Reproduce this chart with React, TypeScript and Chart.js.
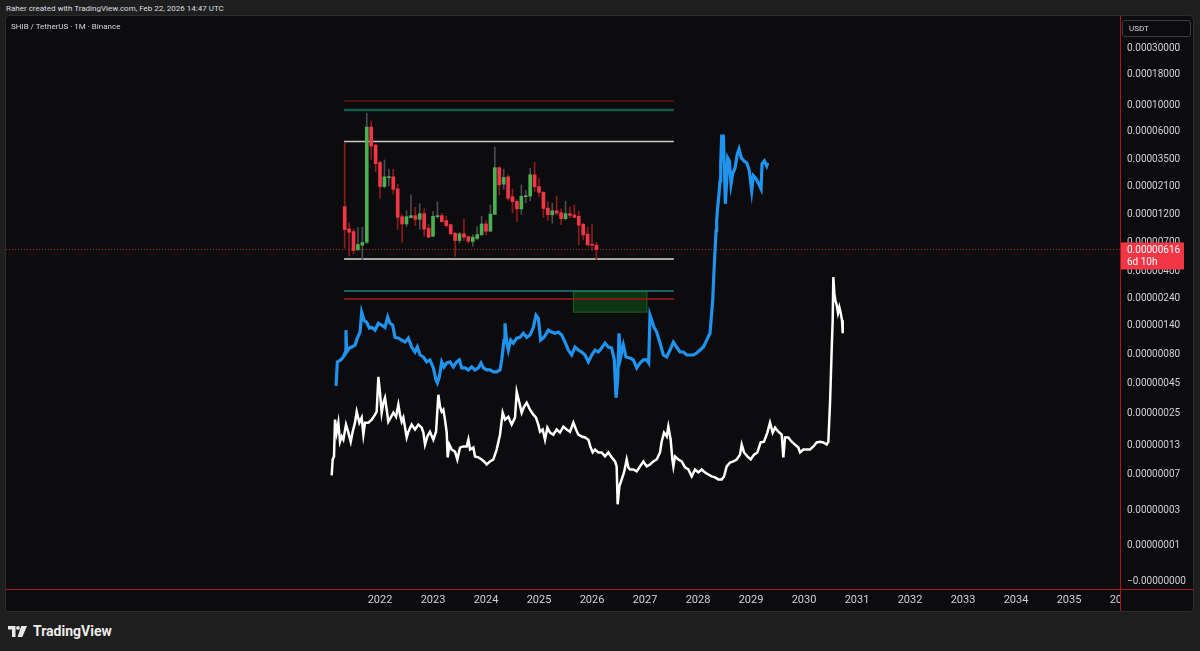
import React, { useEffect, useRef } from 'react';
import { Chart, registerables, LinearScale } from 'chart.js';

// ---------------- data ----------------
const HEADER_TEXT = 'Raher created with TradingView.com, Feb 22, 2026 14:47 UTC';
const SYMBOL_TEXT = 'SHIB / TetherUS \u00b7 1M \u00b7 Binance';
const QUOTE_TEXT = 'USDT';
const LAST_PRICE_TEXT = '0.00000616';
const COUNTDOWN_TEXT = '6d 10h';

const candleMonths = [
  '2021-05','2021-06','2021-07','2021-08','2021-09','2021-10','2021-11','2021-12',
  '2022-01','2022-02','2022-03','2022-04','2022-05','2022-06','2022-07','2022-08','2022-09','2022-10','2022-11','2022-12',
  '2023-01','2023-02','2023-03','2023-04','2023-05','2023-06','2023-07','2023-08','2023-09','2023-10','2023-11','2023-12',
  '2024-01','2024-02','2024-03','2024-04','2024-05','2024-06','2024-07','2024-08','2024-09','2024-10','2024-11','2024-12',
  '2025-01','2025-02','2025-03','2025-04','2025-05','2025-06','2025-07','2025-08','2025-09','2025-10','2025-11','2025-12',
  '2026-01','2026-02',
];
const opens = [
  1.41e-5, 9.17e-6, 8.71e-6, 6.12e-6, 6.69e-6, 7.09e-6, 6.57e-5, 4.64e-5,
  3.31e-5, 2.08e-5, 2.47e-5, 2.51e-5, 1.99e-5, 1.162e-5, 1.009e-5, 1.14e-5, 1.185e-5, 1.104e-5, 1.231e-5, 9.29e-6,
  7.96e-6, 1.162e-5, 1.185e-5, 1.076e-5, 9.96e-6, 8.43e-6, 7.32e-6, 8.33e-6, 7.91e-6, 7.18e-6, 7.61e-6, 8.17e-6,
  1.009e-5, 8.77e-6, 1.216e-5, 3.0e-5, 2.18e-5, 2.51e-5, 1.71e-5, 1.56e-5, 1.35e-5, 1.71e-5, 1.73e-5, 2.61e-5,
  2.08e-5, 1.86e-5, 1.37e-5, 1.208e-5, 1.3e-5, 1.255e-5, 1.118e-5, 1.231e-5, 1.2e-5, 1.17e-5, 1.003e-5, 8.27e-6,
  6.78e-6, 6.7e-6,
];
const highs = [
  4.85e-5, 1.03e-5, 9.17e-6, 9.47e-6, 9.47e-6, 8.59e-5, 7.37e-5, 4.7e-5,
  3.41e-5, 3.48e-5, 2.91e-5, 2.91e-5, 2.18e-5, 1.208e-5, 1.3e-5, 1.77e-5, 1.39e-5, 1.49e-5, 1.35e-5, 1.009e-5,
  1.28e-5, 1.55e-5, 1.24e-5, 1.177e-5, 1.009e-5, 8.6e-6, 8.6e-6, 1.111e-5, 7.96e-6, 8.22e-6, 9.59e-6, 1.17e-5,
  1.076e-5, 1.455e-5, 4.47e-5, 3.04e-5, 2.91e-5, 2.61e-5, 1.98e-5, 1.62e-5, 2.15e-5, 1.94e-5, 2.96e-5, 3.31e-5,
  2.44e-5, 1.89e-5, 1.55e-5, 1.51e-5, 1.73e-5, 1.35e-5, 1.57e-5, 1.4e-5, 1.46e-5, 1.296e-5, 1.022e-5, 9.47e-6,
  9.96e-6, 7.09e-6,
];
const lows = [
  6.32e-6, 5.42e-6, 5.67e-6, 6.04e-6, 5.08e-6, 6.9e-6, 3.52e-5, 2.78e-5,
  1.66e-5, 2.02e-5, 2.11e-5, 1.8e-5, 9.05e-6, 7.09e-6, 9.59e-6, 1.133e-5, 9.77e-6, 9.11e-6, 7.96e-6, 7.71e-6,
  7.9e-6, 1.125e-5, 1.042e-5, 9.47e-6, 8.22e-6, 5.38e-6, 7.0e-6, 7.32e-6, 6.96e-6, 6.57e-6, 7.42e-6, 8.1e-6,
  8.17e-6, 8.71e-6, 1.21e-5, 1.77e-5, 1.97e-5, 1.6e-5, 1.247e-5, 1.062e-5, 1.216e-5, 1.52e-5, 1.58e-5, 1.89e-5,
  1.71e-5, 1.147e-5, 1.076e-5, 1.022e-5, 1.2e-5, 9.96e-6, 1.09e-5, 1.14e-5, 1.133e-5, 6.78e-6, 7.42e-6, 6.57e-6,
  6.04e-6, 5.08e-6,
];
const closes = [
  9.05e-6, 8.6e-6, 6.04e-6, 6.78e-6, 7.05e-6, 6.57e-5, 4.55e-5, 3.24e-5,
  2.08e-5, 2.51e-5, 2.51e-5, 1.97e-5, 1.147e-5, 1.009e-5, 1.162e-5, 1.185e-5, 1.104e-5, 1.231e-5, 9.11e-6, 7.81e-6,
  1.17e-5, 1.185e-5, 1.055e-5, 9.77e-6, 8.33e-6, 7.32e-6, 8.33e-6, 7.81e-6, 7.23e-6, 7.81e-6, 8.22e-6, 1.009e-5,
  8.77e-6, 1.224e-5, 3.0e-5, 2.15e-5, 2.48e-5, 1.66e-5, 1.55e-5, 1.35e-5, 1.72e-5, 1.74e-5, 2.61e-5, 2.07e-5,
  1.86e-5, 1.36e-5, 1.208e-5, 1.3e-5, 1.247e-5, 1.118e-5, 1.231e-5, 1.192e-5, 1.147e-5, 9.84e-6, 8.17e-6, 6.74e-6,
  6.69e-6, 6.16e-6,
];

// blue projected path (decimal year, price)
const blueYears = [
  2021.170, 2021.195, 2021.258, 2021.308, 2021.346, 2021.358, 2021.371, 2021.421, 2021.465, 2021.528,
  2021.572, 2021.623, 2021.654, 2021.698, 2021.748, 2021.799, 2021.843, 2021.906, 2021.969, 2022.031,
  2022.094, 2022.145, 2022.189, 2022.239, 2022.283, 2022.346, 2022.409, 2022.472, 2022.535, 2022.597,
  2022.660, 2022.704, 2022.755, 2022.818, 2022.881, 2022.943, 2023.006, 2023.057, 2023.082, 2023.119,
  2023.164, 2023.208, 2023.258, 2023.321, 2023.384, 2023.447, 2023.497, 2023.541, 2023.604, 2023.667,
  2023.730, 2023.792, 2023.855, 2023.906, 2023.950, 2024.013, 2024.075, 2024.138, 2024.201, 2024.264,
  2024.296, 2024.340, 2024.358, 2024.390, 2024.421, 2024.465, 2024.516, 2024.579, 2024.642, 2024.704,
  2024.767, 2024.830, 2024.893, 2024.943, 2024.987, 2025.031, 2025.094, 2025.176, 2025.239, 2025.302,
  2025.365, 2025.428, 2025.491, 2025.553, 2025.616, 2025.679, 2025.742, 2025.805, 2025.868, 2025.931,
  2025.994, 2026.057, 2026.119, 2026.182, 2026.245, 2026.308, 2026.371, 2026.421, 2026.453, 2026.484,
  2026.509, 2026.541, 2026.591, 2026.642, 2026.717, 2026.780, 2026.843, 2026.906, 2026.969, 2027.031,
  2027.069, 2027.094, 2027.126, 2027.170, 2027.220, 2027.283, 2027.346, 2027.409, 2027.472, 2027.535,
  2027.597, 2027.660, 2027.723, 2027.786, 2027.849, 2027.912, 2027.975, 2028.038, 2028.101, 2028.164,
  2028.226, 2028.277, 2028.302, 2028.321, 2028.340, 2028.352, 2028.365, 2028.396, 2028.415, 2028.428,
  2028.447, 2028.478, 2028.497, 2028.516, 2028.541, 2028.560, 2028.591, 2028.623, 2028.654, 2028.698,
  2028.742, 2028.774, 2028.817, 2028.868, 2028.919, 2028.969, 2029.013, 2029.044, 2029.094, 2029.145,
  2029.189, 2029.208, 2029.252, 2029.296, 2029.315,
];
const bluePrices = [
  4.32e-7, 6.92e-7, 7.19e-7, 7.62e-7, 8.4e-7, 1.287e-6, 8.4e-7, 9.08e-7, 9.25e-7, 9.62e-7,
  1.1e-6, 1.24e-6, 1.82e-6, 1.56e-6, 1.5e-6, 1.34e-6, 1.36e-6, 1.287e-6, 1.47e-6, 1.42e-6,
  1.36e-6, 1.66e-6, 1.47e-6, 1.42e-6, 1.12e-6, 1.1e-6, 1.06e-6, 1.02e-6, 1.1e-6, 9.25e-7,
  8.4e-7, 9.25e-7, 7.92e-7, 7.62e-7, 6.92e-7, 7.19e-7, 6.15e-7, 4.86e-7, 4.58e-7, 5.15e-7,
  6.92e-7, 6.27e-7, 6.78e-7, 6.92e-7, 6.27e-7, 6.92e-7, 7.19e-7, 6.15e-7, 6.15e-7, 5.91e-7,
  6.27e-7, 5.91e-7, 6.15e-7, 6.78e-7, 6.15e-7, 5.91e-7, 5.91e-7, 5.68e-7, 5.68e-7, 5.91e-7,
  7.19e-7, 1.06e-6, 1.47e-6, 1.02e-6, 8.73e-7, 1.06e-6, 1.0e-6, 1.1e-6, 1.12e-6, 1.21e-6,
  1.12e-6, 1.17e-6, 1.36e-6, 1.72e-6, 1.62e-6, 1.06e-6, 1.12e-6, 1.287e-6, 1.24e-6, 1.21e-6,
  1.24e-6, 1.17e-6, 1.02e-6, 8.73e-7, 7.92e-7, 9.25e-7, 8.73e-7, 8.4e-7, 7.92e-7, 6.92e-7,
  7.92e-7, 8.73e-7, 8.4e-7, 9.08e-7, 1.0e-6, 9.25e-7, 9.08e-7, 7.19e-7, 3.41e-7, 4.86e-7,
  1.21e-6, 7.62e-7, 9.62e-7, 7.62e-7, 7.47e-7, 7.19e-7, 6.15e-7, 6.78e-7, 7.19e-7, 7.19e-7,
  6.78e-7, 1.72e-6, 1.56e-6, 1.36e-6, 1.24e-6, 1.0e-6, 7.92e-7, 7.62e-7, 8.73e-7, 1.02e-6,
  9.25e-7, 8.4e-7, 8.4e-7, 7.92e-7, 7.92e-7, 7.92e-7, 8.23e-7, 8.73e-7, 9.25e-7, 1.06e-6,
  1.21e-6, 2.3e-6, 4.1e-6, 6.04e-6, 8.87e-6, 1.075e-5, 1.3e-5, 1.81e-5, 2.32e-5, 3.22e-5,
  5.52e-5, 5.52e-5, 2.98e-5, 1.49e-5, 2.32e-5, 3.62e-5, 3.41e-5, 2.19e-5, 2.66e-5, 2.98e-5,
  3.91e-5, 4.3e-5, 3.62e-5, 3.41e-5, 3.29e-5, 2.82e-5, 1.92e-5, 2.56e-5, 2.42e-5, 2.19e-5,
  1.99e-5, 3.22e-5, 3.41e-5, 3.1e-5, 3.29e-5,
];

// white projected path (decimal year, price)
const whiteYears = [
  2021.088, 2021.107, 2021.132, 2021.151, 2021.182, 2021.214, 2021.245, 2021.277, 2021.308, 2021.358,
  2021.403, 2021.447, 2021.484, 2021.528, 2021.560, 2021.610, 2021.654, 2021.686, 2021.717, 2021.780,
  2021.843, 2021.906, 2021.937, 2021.969, 2022.000, 2022.031, 2022.063, 2022.094, 2022.126, 2022.157,
  2022.201, 2022.252, 2022.302, 2022.346, 2022.377, 2022.409, 2022.440, 2022.472, 2022.503, 2022.535,
  2022.597, 2022.660, 2022.723, 2022.786, 2022.818, 2022.849, 2022.893, 2022.943, 2023.006, 2023.057,
  2023.101, 2023.132, 2023.164, 2023.195, 2023.226, 2023.258, 2023.277, 2023.308, 2023.352, 2023.415,
  2023.459, 2023.509, 2023.572, 2023.635, 2023.667, 2023.698, 2023.761, 2023.792, 2023.855, 2023.918,
  2023.981, 2024.013, 2024.075, 2024.138, 2024.201, 2024.264, 2024.314, 2024.358, 2024.421, 2024.484,
  2024.547, 2024.579, 2024.629, 2024.673, 2024.717, 2024.767, 2024.830, 2024.893, 2024.943, 2024.987,
  2025.019, 2025.069, 2025.113, 2025.157, 2025.208, 2025.270, 2025.333, 2025.396, 2025.459, 2025.522,
  2025.585, 2025.648, 2025.698, 2025.742, 2025.805, 2025.868, 2025.931, 2025.975, 2026.013, 2026.057,
  2026.119, 2026.182, 2026.245, 2026.308, 2026.371, 2026.434, 2026.465, 2026.484, 2026.516, 2026.560,
  2026.604, 2026.654, 2026.686, 2026.717, 2026.780, 2026.843, 2026.906, 2026.969, 2027.031, 2027.094,
  2027.157, 2027.220, 2027.283, 2027.314, 2027.358, 2027.409, 2027.440, 2027.484, 2027.516, 2027.535,
  2027.566, 2027.629, 2027.692, 2027.755, 2027.818, 2027.881, 2027.943, 2028.006, 2028.069, 2028.132,
  2028.195, 2028.258, 2028.321, 2028.384, 2028.447, 2028.491, 2028.541, 2028.604, 2028.667, 2028.730,
  2028.792, 2028.824, 2028.868, 2028.931, 2028.994, 2029.057, 2029.119, 2029.182, 2029.245, 2029.308,
  2029.358, 2029.409, 2029.453, 2029.516, 2029.579, 2029.610, 2029.642, 2029.704, 2029.767, 2029.830,
  2029.893, 2029.925, 2029.987, 2030.050, 2030.113, 2030.176, 2030.239, 2030.302, 2030.365, 2030.428,
  2030.459, 2030.491, 2030.522, 2030.541, 2030.553, 2030.572, 2030.591, 2030.616, 2030.642, 2030.667,
  2030.692, 2030.717, 2030.730,
];
const whitePrices = [
  6.82e-8, 9.65e-8, 1.03e-7, 2.2e-7, 1.69e-7, 2.07e-7, 1.4e-7, 1.56e-7, 1.46e-7, 1.99e-7,
  1.69e-7, 1.4e-7, 1.72e-7, 2.07e-7, 2.58e-7, 2.07e-7, 2.29e-7, 1.62e-7, 2.07e-7, 2.07e-7,
  2.2e-7, 2.43e-7, 2.58e-7, 5.15e-7, 3.76e-7, 2.53e-7, 3.09e-7, 3.41e-7, 2.69e-7, 2.11e-7,
  2.29e-7, 2.53e-7, 2.33e-7, 2.97e-7, 2.43e-7, 2.11e-7, 2.29e-7, 1.87e-7, 1.53e-7, 1.72e-7,
  1.99e-7, 1.8e-7, 1.99e-7, 1.87e-7, 1.69e-7, 1.32e-7, 1.56e-7, 1.72e-7, 1.46e-7, 1.72e-7,
  3.62e-7, 2.85e-7, 2.58e-7, 2.69e-7, 2.2e-7, 1.69e-7, 1.01e-7, 1.32e-7, 1.19e-7, 1.14e-7,
  9.65e-8, 1.24e-7, 1.27e-7, 1.27e-7, 1.46e-7, 1.19e-7, 1.24e-7, 1.03e-7, 1.01e-7, 9.65e-8,
  9.05e-8, 8.67e-8, 9.25e-8, 9.65e-8, 1.19e-7, 1.62e-7, 2.53e-7, 2.2e-7, 2.33e-7, 1.99e-7,
  2.29e-7, 3.84e-7, 3.09e-7, 2.53e-7, 2.85e-7, 3.09e-7, 2.69e-7, 2.43e-7, 2.29e-7, 1.99e-7,
  1.72e-7, 1.8e-7, 1.46e-7, 1.87e-7, 1.69e-7, 1.62e-7, 1.8e-7, 1.69e-7, 1.91e-7, 1.8e-7,
  1.72e-7, 2.07e-7, 1.8e-7, 1.62e-7, 1.56e-7, 1.53e-7, 1.46e-7, 1.24e-7, 1.12e-7, 1.19e-7,
  1.12e-7, 1.12e-7, 1.03e-7, 1.12e-7, 1.01e-7, 9.25e-8, 8.31e-8, 3.48e-8, 5.33e-8, 6.24e-8,
  7.29e-8, 9.65e-8, 8.13e-8, 7.78e-8, 7.78e-8, 7.45e-8, 8.31e-8, 9.25e-8, 8.31e-8, 8.67e-8,
  9.25e-8, 9.65e-8, 1.12e-7, 1.4e-7, 1.69e-7, 1.56e-7, 1.91e-7, 1.46e-7, 9.65e-8, 8.31e-8,
  1.03e-7, 9.65e-8, 9.25e-8, 8.13e-8, 7.78e-8, 6.67e-8, 7.78e-8, 7.29e-8, 7.78e-8, 7.29e-8,
  6.97e-8, 6.67e-8, 6.53e-8, 6.24e-8, 6.24e-8, 6.67e-8, 8.31e-8, 9.05e-8, 9.25e-8, 9.65e-8,
  1.07e-7, 1.32e-7, 1.12e-7, 1.03e-7, 9.65e-8, 1.07e-7, 1.12e-7, 1.38e-7, 1.4e-7, 1.69e-7,
  2.07e-7, 1.69e-7, 1.87e-7, 1.72e-7, 1.62e-7, 1.01e-7, 1.53e-7, 1.53e-7, 1.4e-7, 1.32e-7,
  1.24e-7, 1.12e-7, 1.19e-7, 1.19e-7, 1.19e-7, 1.27e-7, 1.38e-7, 1.4e-7, 1.38e-7, 1.32e-7,
  1.4e-7, 3.09e-7, 8.73e-7, 1.56e-6, 3.6e-6, 2.64e-6, 2.3e-6, 2.1e-6, 1.8e-6, 2.01e-6,
  1.8e-6, 1.56e-6, 1.21e-6,
];

// horizontal levels drawn over the candle area
const levelStart = 2021.321;
const levelEnd = 2027.544;
const levelValues = [1.0875e-4, 9.14e-5, 4.97e-5, 5.12e-6, 2.75e-6, 2.36e-6];
// zone rectangle
const zoneStart = 2025.64;
const zoneEnd = 2027.044;
const zoneTop = 2.75e-6;
const zoneBottom = 1.81e-6;

// axes
const yearTicks = [2022, 2023, 2024, 2025, 2026, 2027, 2028, 2029, 2030, 2031, 2032, 2033, 2034, 2035];
const clippedYear = 2036;
const yTickValues = [
  0.0003, 0.00018, 0.0001, 0.00006, 0.000035, 0.000021, 0.000012, 0.000007, 0.000004, 0.0000024,
  0.0000014, 0.0000008, 0.00000045, 0.00000025, 0.00000013, 0.00000007, 0.00000003, 0.00000001, 0,
];
const yTickLabels = [
  '0.00030000', '0.00018000', '0.00010000', '0.00006000', '0.00003500', '0.00002100', '0.00001200',
  '0.00000700', '0.00000400', '0.00000240', '0.00000140', '0.00000080', '0.00000045', '0.00000025',
  '0.00000013', '0.00000007', '0.00000003', '0.00000001', '\u22120.00000000',
];
const X_MIN = 2014.943;
const X_MAX = 2035.962;
const Y_MIN = -1.29e-9;
const Y_MAX = 5.622e-4;

// ---------------- styles ----------------
const FONT = 'Roboto, "DejaVu Sans", sans-serif';
const TEXT = '#cfd2d8';
const UP = '#4caf50';
const DOWN = '#f23645';
const WICK_UP = '#4a4c52';
const WICK_DOWN = '#8a1c1c';
const levelColors = ['#8e1a1a', '#10594a', '#c9c9c9', '#a6a6a6', '#1d8277', '#a01818'];
const levelWidths = [1, 2.5, 1.5, 2, 1.5, 1.5];
const AXIS_LINE = '#a81818';

// ---------------- custom offset-log scale (TradingView style log) ----------------
const LOG_OFFSET = 1e-8;
class OffsetLogScale extends LinearScale {
  static id = 'offsetLog';
  static defaults = {};
  configure() {
    super.configure();
    const a = Math.log10(this.min + LOG_OFFSET);
    const b = Math.log10(this.max + LOG_OFFSET);
    (this as any)._tStart = a;
    (this as any)._tRange = b - a;
  }
  getPixelForValue(value: any) {
    if (value === null || value === undefined || isNaN(value)) return NaN;
    const t = Math.log10(Math.max(value + LOG_OFFSET, 1e-30));
    return this.getPixelForDecimal((t - (this as any)._tStart) / (this as any)._tRange);
  }
  getValueForPixel(pixel: number) {
    return Math.pow(10, (this as any)._tStart + this.getDecimalForPixel(pixel) * (this as any)._tRange) - LOG_OFFSET;
  }
}
Chart.register(...registerables, OffsetLogScale as any);

const lastClose = closes[closes.length - 1];

const overlayPlugin = {
  id: 'tvOverlay',
  beforeDatasetsDraw(chart: any) {
    const { ctx, chartArea: a, scales } = chart;
    const x = scales.x;
    const y = scales.y;
    ctx.save();
    ctx.beginPath();
    ctx.rect(a.left, a.top, a.right - a.left, a.bottom - a.top);
    ctx.clip();
    const bx0 = x.getPixelForValue(zoneStart);
    const bx1 = x.getPixelForValue(zoneEnd);
    const by0 = y.getPixelForValue(zoneTop);
    const by1 = y.getPixelForValue(zoneBottom);
    ctx.fillStyle = 'rgba(22,110,26,0.42)';
    ctx.fillRect(bx0, by0, bx1 - bx0, by1 - by0);
    ctx.strokeStyle = '#1e5f22';
    ctx.lineWidth = 1;
    ctx.strokeRect(bx0 + 0.5, by0 + 0.5, bx1 - bx0 - 1, by1 - by0 - 1);
    // dotted last-price line
    const py = Math.round(y.getPixelForValue(lastClose));
    ctx.fillStyle = '#c3202c';
    for (let px = Math.round(a.left); px < a.right; px += 3) {
      ctx.fillRect(px, py, 1, 1);
    }
    ctx.restore();
  },
  afterDraw(chart: any) {
    const { ctx, chartArea: a, scales } = chart;
    const x = scales.x;
    const y = scales.y;
    const cw = ctx.canvas.width;
    const ch = ctx.canvas.height;
    ctx.save();
    // clipped next-year label
    ctx.save();
    ctx.beginPath();
    ctx.rect(0, a.bottom, a.right, ch - a.bottom);
    ctx.clip();
    ctx.fillStyle = TEXT;
    ctx.font = '11px ' + FONT;
    ctx.textAlign = 'center';
    ctx.textBaseline = 'middle';
    ctx.fillText(String(clippedYear), x.getPixelForValue(clippedYear), a.bottom + 5 + 6.6);
    ctx.restore();
    // red axis cross lines
    ctx.fillStyle = AXIS_LINE;
    ctx.fillRect(Math.round(a.right), 0, 1, ch);
    ctx.fillRect(0, Math.round(a.bottom), cw, 1);
    // last price tag
    const py = y.getPixelForValue(lastClose);
    const left = a.right + 1;
    ctx.fillStyle = DOWN;
    ctx.fillRect(left, py - 7, 63, 27);
    ctx.fillStyle = '#ffffff';
    ctx.font = '10px ' + FONT;
    ctx.textAlign = 'left';
    ctx.textBaseline = 'middle';
    ctx.fillText(LAST_PRICE_TEXT, left + 6, py + 1);
    ctx.fillText(COUNTDOWN_TEXT, left + 6, py + 13);
    ctx.restore();
  },
};

export default function App() {
  const canvasRef = useRef<HTMLCanvasElement | null>(null);

  useEffect(() => {
    const canvas = canvasRef.current;
    if (!canvas) return;
    const candleX = candleMonths.map((m) => {
      const [yy, mm] = m.split('-').map(Number);
      return yy + (mm - 1) / 12;
    });
    const isUp = closes.map((c, i) => c >= opens[i]);

    const levelSets = levelValues.map((v, i) => ({
      type: 'line',
      data: [{ x: levelStart, y: v }, { x: levelEnd, y: v }],
      borderColor: levelColors[i],
      borderWidth: levelWidths[i],
      pointRadius: 0,
      tension: 0,
      order: 5,
    }));

    const chart = new Chart(canvas, {
      type: 'line',
      data: {
        datasets: [
          {
            type: 'bar',
            data: candleX.map((xv, i) => ({ x: xv, y: [lows[i], highs[i]] })),
            backgroundColor: isUp.map((u) => (u ? WICK_UP : WICK_DOWN)),
            barThickness: 1,
            grouped: false,
            borderWidth: 0,
            order: 2,
          },
          {
            type: 'bar',
            data: candleX.map((xv, i) => ({
              x: xv,
              y: [Math.min(opens[i], closes[i]), Math.max(opens[i], closes[i])],
            })),
            backgroundColor: isUp.map((u) => (u ? UP : DOWN)),
            barThickness: 3,
            minBarLength: 1,
            grouped: false,
            borderWidth: 0,
            order: 1,
          },
          {
            type: 'line',
            data: blueYears.map((xv, i) => ({ x: xv, y: bluePrices[i] })),
            borderColor: '#1f93ee',
            borderWidth: 3.2,
            pointRadius: 0,
            tension: 0,
            order: 3,
          },
          {
            type: 'line',
            data: whiteYears.map((xv, i) => ({ x: xv, y: whitePrices[i] })),
            borderColor: '#ffffff',
            borderWidth: 2.5,
            pointRadius: 0,
            tension: 0,
            order: 3,
          },
          ...levelSets,
        ] as any,
      },
      options: {
        responsive: false,
        animation: false,
        devicePixelRatio: 1,
        events: [],
        layout: { padding: 0 },
        plugins: { legend: { display: false }, tooltip: { enabled: false } },
        scales: {
          x: {
            type: 'linear',
            min: X_MIN,
            max: X_MAX,
            bounds: 'data',
            offset: false,
            grid: { display: false, drawTicks: false, offset: false },
            border: { display: false },
            afterBuildTicks: (s: any) => {
              s.ticks = yearTicks.map((v) => ({ value: v }));
            },
            ticks: {
              autoSkip: false,
              maxRotation: 0,
              minRotation: 0,
              padding: 5,
              color: TEXT,
              font: { family: FONT, size: 11 },
              callback: (v: any) => String(v),
            },
            afterFit: (s: any) => {
              s.height = 22;
              s.paddingLeft = 0;
              s.paddingRight = 0;
            },
          },
          y: {
            type: 'offsetLog',
            position: 'right',
            min: Y_MIN,
            max: Y_MAX,
            bounds: 'data',
            beginAtZero: false,
            grid: { display: false, drawTicks: false },
            border: { display: false },
            afterBuildTicks: (s: any) => {
              s.ticks = yTickValues.map((v) => ({ value: v }));
            },
            ticks: {
              autoSkip: false,
              padding: 7,
              color: TEXT,
              font: { family: FONT, size: 10 },
              callback: (_v: any, i: number) => yTickLabels[i],
            },
            afterFit: (s: any) => {
              s.width = 73;
              s.paddingTop = 0;
              s.paddingBottom = 0;
            },
          },
        } as any,
      },
      plugins: [overlayPlugin as any],
    } as any);
    return () => chart.destroy();
  }, []);

  return (
    <div
      style={{
        position: 'absolute',
        left: 0,
        top: 0,
        width: 1200,
        height: 651,
        background: '#1e1e1e',
        overflow: 'hidden',
        fontFamily: FONT,
      }}
    >
      <div style={{ position: 'absolute', left: 6, top: 3, fontSize: 8, lineHeight: '12px', color: '#dcdee3', whiteSpace: 'nowrap' }}>
        {HEADER_TEXT}
      </div>
      <div
        style={{
          position: 'absolute',
          left: 5,
          top: 15,
          width: 1189,
          height: 597,
          background: '#0c0c0e',
          border: '1px solid #2c2c2c',
          borderRadius: 4,
          boxSizing: 'border-box',
        }}
      />
      <canvas
        ref={canvasRef}
        width={1187}
        height={595}
        style={{ position: 'absolute', left: 6, top: 16, width: 1187, height: 595 }}
      />
      <div style={{ position: 'absolute', left: 11, top: 21, fontSize: 8, lineHeight: '12px', color: '#d6d8dd', whiteSpace: 'nowrap' }}>
        {SYMBOL_TEXT}
      </div>
      <div
        style={{
          position: 'absolute',
          left: 1122,
          top: 20,
          width: 69,
          height: 17,
          border: '1px solid #3a3d45',
          borderRadius: 3,
          boxSizing: 'border-box',
          fontSize: 8,
          lineHeight: '15px',
          color: '#d6d8dd',
          paddingLeft: 6,
        }}
      >
        {QUOTE_TEXT}
      </div>
      <svg style={{ position: 'absolute', left: 8, top: 626 }} width={19} height={11} viewBox="0 0 19 11">
        <path d="M0 0H7.5V11H4V3.6H0Z" fill="#e8e8e8" />
        <circle cx="10" cy="1.9" r="1.9" fill="#e8e8e8" />
        <path d="M13.2 0H19L14.3 11H9.6Z" fill="#e8e8e8" />
      </svg>
      <div
        style={{
          position: 'absolute',
          left: 33,
          top: 624,
          fontSize: 14,
          lineHeight: '14px',
          fontWeight: 700,
          color: '#ececec',
          whiteSpace: 'nowrap',
        }}
      >
        TradingView
      </div>
    </div>
  );
}
